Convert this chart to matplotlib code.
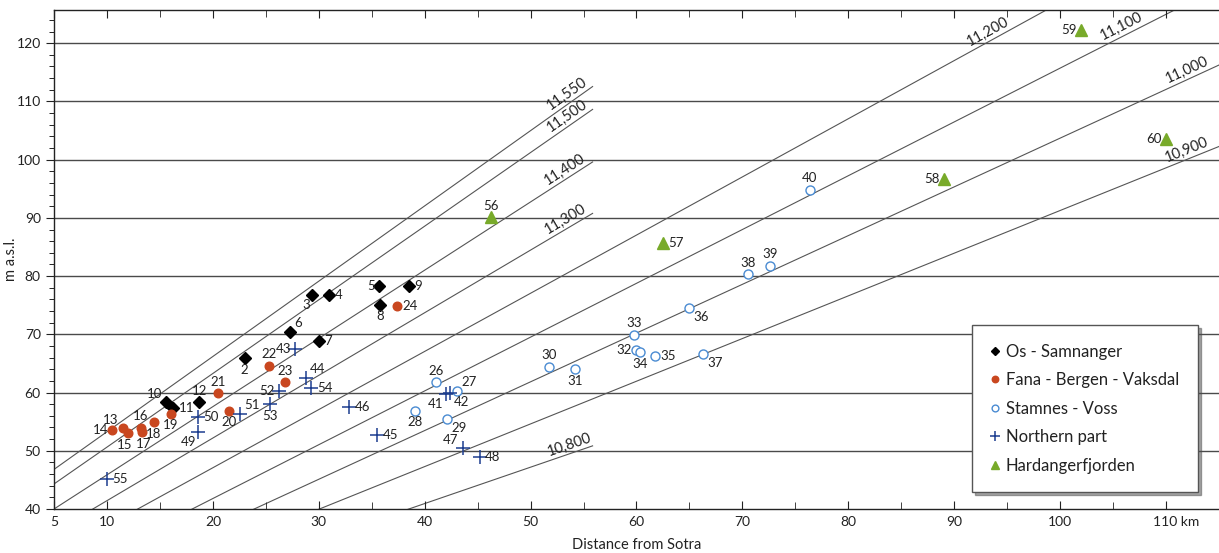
import numpy as np
import matplotlib
matplotlib.use("Agg")
import matplotlib.pyplot as plt
import matplotlib.transforms as mtrans
from matplotlib.ticker import MultipleLocator

plt.rcParams['font.family'] = ['Lato', 'DejaVu Sans']

# --- data -------------------------------------------------------------
os_id = [2, 3, 4, 5, 6, 7, 8, 9, 10, 11, 12]
os_x = [23.0, 29.4, 31.0, 35.7, 27.3, 30.0, 35.8, 38.5, 15.6, 16.25, 18.7]
os_y = [65.9, 76.8, 76.8, 78.3, 70.4, 68.8, 75.1, 78.3, 58.3, 57.4, 58.3]

fana_id = [13, 14, 15, 16, 17, 18, 19, 20, 21, 22, 23, 24]
fana_x = [11.5, 10.5, 11.95, 13.2, 13.3, 14.4, 16.0, 21.5, 20.5, 25.3, 26.8, 37.4]
fana_y = [53.85, 53.5, 53.0, 53.95, 53.2, 54.9, 56.4, 56.9, 59.9, 64.55, 61.8, 74.9]

stam_id = [26, 27, 28, 29, 30, 31, 32, 33, 34, 35, 36, 37, 38, 39, 40]
stam_x = [41.1, 43.05, 39.1, 42.1, 51.7, 54.2, 59.95, 59.8, 60.3, 61.7, 65.0, 66.3, 70.5, 72.6, 76.35]
stam_y = [61.8, 60.3, 56.9, 55.5, 64.4, 64.0, 67.35, 69.9, 66.9, 66.3, 74.45, 66.6, 80.3, 81.8, 94.8]

north_id = [41, 42, 43, 44, 45, 46, 47, 48, 49, 50, 51, 52, 53, 54, 55]
north_x = [42.0, 42.4, 27.8, 28.8, 35.5, 32.9, 43.6, 45.2, 18.6, 18.6, 22.55, 26.2, 25.4, 29.3, 10.0]
north_y = [59.7, 59.85, 67.4, 62.5, 52.7, 57.5, 50.4, 49.0, 53.2, 55.85, 56.4, 60.3, 58.0, 60.8, 45.15]

hard_id = [56, 57, 58, 59, 60]
hard_x = [46.3, 62.5, 89.0, 101.95, 110.0]
hard_y = [90.1, 85.6, 96.6, 122.35, 103.5]

# isobases: y at x=5, gradient (m per km), last x drawn
iso_lab = ['11,550', '11,500', '11,400', '11,300', '11,200', '11,100', '11,000', '10,900', '10,800']
iso_y5 = [46.8, 44.3, 40.0, 36.05, 32.1, 27.94, 24.18, 21.63, 19.06]
iso_slope = [1.293, 1.265, 1.172, 1.076, 0.999, 0.924, 0.837, 0.733, 0.625]
iso_xend = [56, 56, 56, 56, 115, 115, 115, 115, 56]
iso_labx = [53.9, 53.9, 53.7, 53.7, 93.6, 106.2, 112.3, 112.3, 53.9]

# label placement of point numbers
os_pos = ['b', 'bl', 'r', 'l', 'ar', 'r', 'b', 'r', 'al', 'r', 'a']
fana_pos = ['al', 'l', 'bL', 'a', 'bR', 'b', 'b', 'b', 'a', 'a', 'a', 'r']
stam_pos = ['a', 'ar', 'b', 'br', 'a', 'b', 'l', 'a', 'b', 'r', 'br', 'br', 'a', 'a', 'a']
north_pos = ['bl', 'br', 'l', 'ar', 'r', 'r', 'al', 'r', 'bl', 'r', 'ar', 'l', 'b', 'r', 'r']
hard_pos = ['a', 'r', 'l', 'l', 'l']

# --- figure -----------------------------------------------------------
fig = plt.figure(figsize=(12.19, 5.53), dpi=100)
ax = fig.add_axes([54 / 1219, 44 / 553, 1 - 54 / 1219, 499 / 553])
ax.set_xlim(5, 115)
ax.set_ylim(40, 125.7)

gc = '#4a4a4a'
for v in range(50, 130, 10):
    ax.axhline(v, color=gc, lw=1.0, zorder=1)

xx = np.linspace(5, 115, 200)
for lab, y5, s, xe in zip(iso_lab, iso_y5, iso_slope, iso_xend):
    xs = xx[xx <= xe]
    ax.plot(xs, y5 + s * (xs - 5), color='#555555', lw=0.8, zorder=1)

ax.spines['right'].set_visible(False)
for sp in ['left', 'bottom', 'top']:
    ax.spines[sp].set_color('#222222')
    ax.spines[sp].set_linewidth(1.0)

ax.xaxis.set_minor_locator(MultipleLocator(5))
ax.yaxis.set_major_locator(MultipleLocator(10))
ax.yaxis.set_minor_locator(MultipleLocator(2))
ax.set_xticks([5] + list(range(10, 111, 10)))
ax.set_xticklabels(['5'] + [str(v) for v in range(10, 101, 10)] + ['110 km'])
ax.tick_params(axis='x', which='both', direction='in', top=True, labelsize=10, colors='#222222', pad=5)
ax.tick_params(axis='x', which='major', length=6)
ax.tick_params(axis='x', which='minor', length=5)
ax.tick_params(axis='y', which='major', direction='out', length=6, labelsize=10, colors='#222222')
ax.tick_params(axis='y', which='minor', direction='out', length=3.5)
# shift the last label so that "110" sits under its tick
lbl = ax.get_xticklabels()[-1]
lbl.set_transform(lbl.get_transform() + mtrans.ScaledTranslation(7 / 72, 0, fig.dpi_scale_trans))

ax.set_xlabel('Distance from Sotra', fontsize=10.5, color='#222222', labelpad=7)
ax.set_ylabel('m a.s.l.', fontsize=10.5, color='#222222')
ax.yaxis.set_label_coords(-0.031, 0.5)

# isobase labels
for lab, y5, s, lx in zip(iso_lab, iso_y5, iso_slope, iso_labx):
    p0 = ax.transData.transform((lx, y5 + s * (lx - 5)))
    p1 = ax.transData.transform((lx + 1, y5 + s * (lx + 1 - 5)))
    ang = np.degrees(np.arctan2(p1[1] - p0[1], p1[0] - p0[0]))
    ax.annotate(lab, (lx, y5 + s * (lx - 5)),
                xytext=(-1.5 * np.sin(np.radians(ang)), 1.5 * np.cos(np.radians(ang))),
                textcoords='offset points', rotation=ang, rotation_mode='anchor',
                ha='center', va='bottom', fontsize=10.5, color='#222222', zorder=2)

# points
c_fana = '#c9471f'
c_stam = '#4a8bd2'
c_north = '#1c3d8f'
c_hard = '#78aa2a'
ax.plot(os_x, os_y, 'D', color='black', ms=5.8, ls='none', zorder=4, label='Os - Samnanger')
ax.plot(fana_x, fana_y, 'o', color=c_fana, ms=6.2, ls='none', zorder=4, label='Fana - Bergen - Vaksdal')
ax.plot(stam_x, stam_y, 'o', mfc='white', mec=c_stam, mew=1.0, ms=6.5, ls='none', zorder=4, label='Stamnes - Voss')
ax.plot(north_x, north_y, '+', color=c_north, ms=9.5, mew=1.1, ls='none', zorder=4, label='Northern part')
ax.plot(hard_x, hard_y, '^', color=c_hard, ms=8, ls='none', zorder=4, label='Hardangerfjorden')

offs = {'r': (4, 0, 'left', 'center'), 'l': (-3, 0, 'right', 'center'),
        'a': (0, 4, 'center', 'bottom'), 'b': (0, -4, 'center', 'top'),
        'bL': (-2.5, -4, 'center', 'top'), 'bR': (1.5, -4, 'center', 'top'),
        'ar': (3, 2, 'left', 'bottom'), 'al': (-3, 2, 'right', 'bottom'),
        'br': (3, -2, 'left', 'top'), 'bl': (-1.5, -3, 'right', 'top')}
for ids, xs, ys, pos in [(os_id, os_x, os_y, os_pos), (fana_id, fana_x, fana_y, fana_pos),
                         (stam_id, stam_x, stam_y, stam_pos), (north_id, north_x, north_y, north_pos),
                         (hard_id, hard_x, hard_y, hard_pos)]:
    for i, x, y, p in zip(ids, xs, ys, pos):
        dx, dy, ha, va = offs[p]
        ax.annotate(str(i), (x, y), xytext=(dx, dy), textcoords='offset points',
                    ha=ha, va=va, fontsize=9.5, color='#222222', zorder=5)

leg = ax.legend(loc='upper left', bbox_to_anchor=(0.788, 0.369, 0.194, 0.0), mode='expand',
                fontsize=12, frameon=True, fancybox=False, shadow=True, framealpha=1,
                edgecolor='#555555', markerscale=0.75, handlelength=0.5, handletextpad=0.4,
                labelspacing=0.75, borderpad=1.12, borderaxespad=0)
leg.get_frame().set_linewidth(1.0)
leg.set_zorder(6)
for t in leg.get_texts():
    t.set_color('#222222')

fig.savefig('out.png', dpi=100)
